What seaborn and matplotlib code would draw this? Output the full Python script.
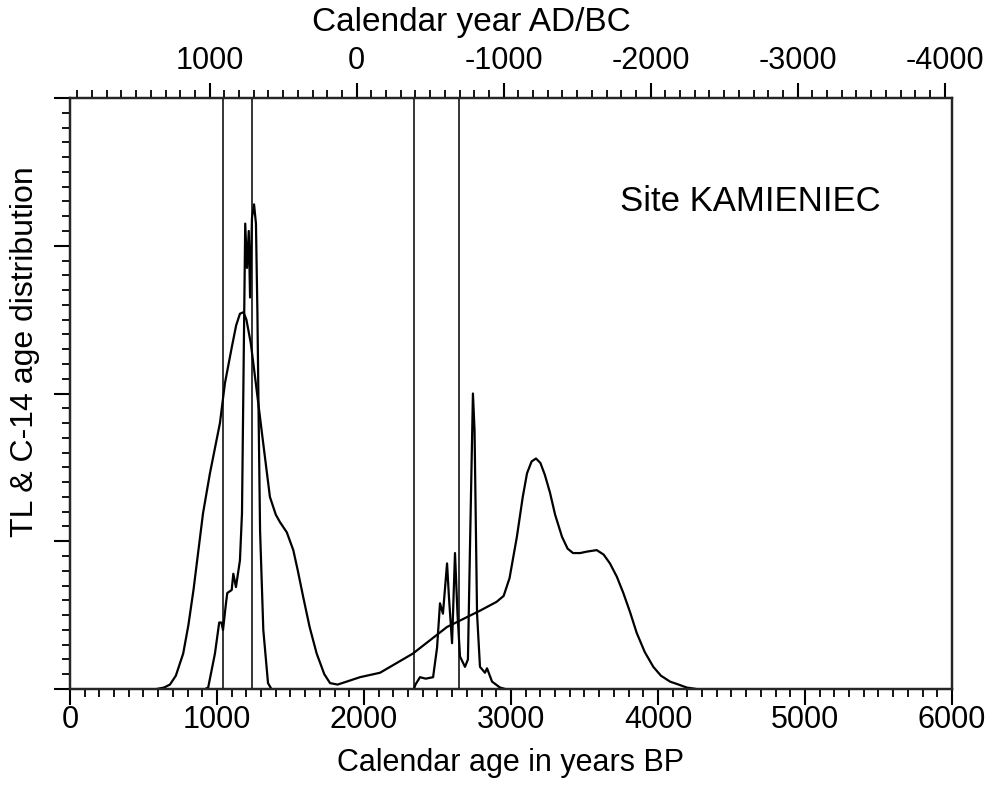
import numpy as np
import matplotlib
matplotlib.use("Agg")
import matplotlib.pyplot as plt
import seaborn as sns
from matplotlib.ticker import MultipleLocator, FixedLocator

# TL age distribution (smooth curve), x = calendar age BP
tl_bp = [590, 640, 680, 720, 770, 805, 840, 875, 905, 952, 1020, 1054, 1100, 1130, 1156, 1180,
         1200, 1230, 1259, 1306, 1360, 1400, 1428, 1475, 1519, 1550, 1587, 1630, 1678, 1730,
         1769, 1820, 1882, 1973, 2109, 2333, 2565, 2789, 2902, 2950, 2990, 3040, 3080, 3109,
         3140, 3170, 3200, 3230, 3265, 3300, 3347, 3385, 3422, 3470, 3517, 3583, 3630, 3673,
         3720, 3764, 3810, 3855, 3910, 3968, 4020, 4082, 4140, 4195, 4260]
tl_val = [0.0, 0.01, 0.03, 0.09, 0.24, 0.43, 0.67, 0.95, 1.19, 1.46, 1.80, 2.07, 2.31, 2.46,
          2.54, 2.55, 2.50, 2.34, 2.11, 1.73, 1.30, 1.18, 1.13, 1.06, 0.94, 0.80, 0.62, 0.42,
          0.24, 0.10, 0.04, 0.03, 0.05, 0.08, 0.11, 0.24, 0.42, 0.53, 0.59, 0.63, 0.75, 1.03,
          1.30, 1.46, 1.54, 1.56, 1.53, 1.45, 1.33, 1.18, 1.03, 0.95, 0.92, 0.92, 0.93, 0.94,
          0.91, 0.85, 0.76, 0.65, 0.52, 0.38, 0.25, 0.15, 0.09, 0.05, 0.03, 0.01, 0.0]

# C-14 calibrated distributions (spiky curves)
c14a_bp = [920, 940, 986, 1015, 1030, 1041, 1061, 1070, 1100, 1111, 1129, 1156, 1170, 1180,
           1192, 1204, 1216, 1225, 1238, 1252, 1265, 1275, 1283, 1293, 1315, 1347, 1370]
c14a_val = [0.0, 0.01, 0.24, 0.45, 0.45, 0.40, 0.58, 0.65, 0.67, 0.78, 0.69, 0.87, 1.19, 2.09,
            3.15, 2.85, 3.10, 2.65, 3.19, 3.28, 3.15, 2.54, 1.86, 1.07, 0.40, 0.04, 0.0]
c14b_bp = [2340, 2350, 2381, 2420, 2470, 2497, 2517, 2537, 2565, 2578, 2599, 2619, 2636, 2653,
           2687, 2707, 2721, 2741, 2752, 2769, 2789, 2823, 2837, 2871, 2925, 2960]
c14b_val = [0.0, 0.03, 0.08, 0.07, 0.08, 0.28, 0.58, 0.51, 0.85, 0.62, 0.31, 0.92, 0.51, 0.22,
            0.15, 0.20, 0.96, 2.00, 1.75, 0.51, 0.15, 0.11, 0.14, 0.05, 0.01, 0.0]

# range boundaries
vlines_bp = [1040, 1238, 2340, 2646]

year_ticks = [1000, 0, -1000, -2000, -3000, -4000]

sns.set_style("ticks")
plt.rcParams["font.family"] = ["Liberation Sans", "DejaVu Sans"]
plt.rcParams["axes.unicode_minus"] = False
plt.rcParams["text.color"] = "black"
plt.rcParams["axes.labelcolor"] = "black"

fig = plt.figure(figsize=(9.95, 7.85), dpi=100)
ax = fig.add_axes([70 / 995, 96 / 785, 882 / 995, 591 / 785])

lw = 1.6
sns.lineplot(x=tl_bp, y=tl_val, ax=ax, color="black", lw=lw, sort=False, estimator=None)
sns.lineplot(x=c14a_bp, y=c14a_val, ax=ax, color="black", lw=lw, sort=False, estimator=None)
sns.lineplot(x=c14b_bp, y=c14b_val, ax=ax, color="black", lw=lw, sort=False, estimator=None)
for v in vlines_bp:
    ax.axvline(v, color="black", lw=1.1)

ax.set_xlim(0, 6000)
ax.set_ylim(0, 4)
for s in ax.spines.values():
    s.set_linewidth(1.6)
    s.set_color("black")

ax.xaxis.set_major_locator(MultipleLocator(1000))
ax.xaxis.set_minor_locator(MultipleLocator(100))
ax.yaxis.set_major_locator(MultipleLocator(1))
ax.yaxis.set_minor_locator(MultipleLocator(0.1))
ax.set_yticklabels([])
ax.tick_params(which="major", direction="out", length=11.5, width=1.5, colors="black",
               labelcolor="black", labelsize=22, pad=0)
ax.tick_params(which="minor", direction="out", length=5.5, width=1.3, colors="black")

ax.set_xlabel("Calendar age in years BP", fontsize=22, va="center")
ax.xaxis.set_label_coords(0.5, (689 - 763) / 591)
ax.set_ylabel("TL & C-14 age distribution", fontsize=23, va="center")
ax.yaxis.set_label_coords((25 - 70) / 882, (689 - 352) / 591)

# top axis: calendar year AD/BC = 1950 - BP
top = ax.twiny()
top.set_xlim(1950, 1950 - 6000)
top.xaxis.set_major_locator(FixedLocator(year_ticks))
top.set_xticklabels([str(t) for t in year_ticks])
top.xaxis.set_minor_locator(MultipleLocator(100))
top.tick_params(which="major", direction="out", length=11, width=1.5, colors="black",
                labelcolor="black", labelsize=22, pad=5)
top.tick_params(which="minor", direction="out", length=5.5, width=1.3, colors="black")
top.set_xlabel("Calendar year AD/BC", fontsize=24, va="center")
top.xaxis.set_label_coords((471 - 70) / 882, (689 - 22) / 591)
for s in top.spines.values():
    s.set_linewidth(1.6)

ax.text(3740, 3.30, "Site KAMIENIEC", fontsize=25, ha="left", va="center")

fig.savefig("out.png", dpi=100)
